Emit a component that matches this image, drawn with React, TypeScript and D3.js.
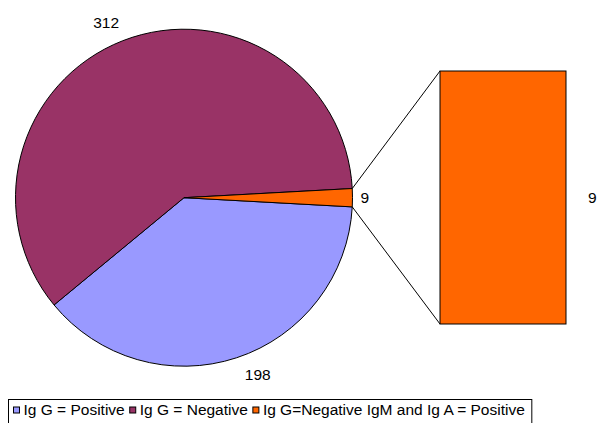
import React, { useEffect, useRef } from 'react';
import * as d3 from 'd3';

// pie slices, in drawing order (clockwise, starting just below the split slice)
const categories = [
  'Ig G = Positive',
  'Ig G = Negative',
  'Ig G=Negative IgM and Ig A = Positive'
];
const values = [198, 312, 9];
const colors = ['#9999FF', '#993366', '#FF6600'];

// the secondary bar holds only the last category
const barValues = [9];

const PieOfBar = props => {
  const container = useRef(null);
  const { width, height } = props;

  const pieCenter = { x: 184, y: 197.7 };
  const radius = 168.5;
  const bar = { x: 440, w: 126, top: 71, bottom: 324 };
  const font = 'Liberation Sans, Arial, sans-serif';
  const fontSize = '15.5px';

  useEffect(() => {
    createChart();
  }, [width, height]);

  const createChart = () => {
    const svg = d3
      .select(container.current)
      .selectAll('svg')
      .data([0])
      .join('svg')
      .attr('width', width)
      .attr('height', height)
      .style('position', 'absolute')
      .style('left', 0)
      .style('top', 0);

    const total = d3.sum(values);
    const splitIdx = values.length - 1;
    const half = (values[splitIdx] / total) * Math.PI;

    const pie = d3
      .pie()
      .sort(null)
      .value(d => d)
      .startAngle(Math.PI / 2 + half)
      .endAngle(Math.PI / 2 + half + 2 * Math.PI);

    const arcs = pie(values);
    const arc = d3.arc().innerRadius(0).outerRadius(radius);

    const pieg = svg
      .selectAll('.pieg')
      .data([0])
      .join('g')
      .attr('class', 'pieg')
      .attr('transform', `translate(${pieCenter.x},${pieCenter.y})`);

    pieg
      .selectAll('path')
      .data(arcs)
      .join('path')
      .attr('d', arc)
      .style('fill', (d, i) => colors[i])
      .style('stroke', '#000')
      .style('stroke-width', 1);

    // labels outside the slices
    const labelArc = d3.arc().innerRadius(radius + 10).outerRadius(radius + 10);
    pieg
      .selectAll('.slice-label')
      .data(arcs)
      .join('text')
      .attr('class', 'slice-label')
      .attr('x', d => {
        const cx = labelArc.centroid(d)[0];
        if (d.index == splitIdx) return cx - 2;
        return cx < 0 ? cx : cx + 5;
      })
      .attr('y', d => labelArc.centroid(d)[1])
      .attr('text-anchor', d => (labelArc.centroid(d)[0] < 0 ? 'end' : 'start'))
      .attr('dy', d => {
        const cy = labelArc.centroid(d)[1];
        if (Math.abs(cy) < 20) return '0.35em';
        return cy < 0 ? '-0.2em' : '0.85em';
      })
      .style('font-family', font)
      .style('font-size', fontSize)
      .style('fill', '#000')
      .text(d => d.data);

    // connector lines from the split slice to the bar
    const split = arcs[splitIdx];
    const edge = a => [
      pieCenter.x + radius * Math.sin(a),
      pieCenter.y - radius * Math.cos(a)
    ];
    const yBar = d3
      .scaleLinear()
      .domain([0, d3.sum(barValues)])
      .range([bar.bottom, bar.top]);

    const lines = [
      [edge(split.startAngle), [bar.x, yBar(d3.sum(barValues))]],
      [edge(split.endAngle), [bar.x, yBar(0)]]
    ];
    svg
      .selectAll('.connector')
      .data(lines)
      .join('line')
      .attr('class', 'connector')
      .attr('x1', d => d[0][0])
      .attr('y1', d => d[0][1])
      .attr('x2', d => d[1][0])
      .attr('y2', d => d[1][1])
      .style('stroke', '#000')
      .style('stroke-width', 1);

    // secondary bar
    const stacked = barValues.map((v, i) => ({
      v,
      y0: d3.sum(barValues.slice(0, i)),
      y1: d3.sum(barValues.slice(0, i + 1))
    }));
    svg
      .selectAll('.bar-seg')
      .data(stacked)
      .join('rect')
      .attr('class', 'bar-seg')
      .attr('x', bar.x)
      .attr('width', bar.w)
      .attr('y', d => yBar(d.y1))
      .attr('height', d => yBar(d.y0) - yBar(d.y1))
      .style('fill', colors[splitIdx])
      .style('stroke', '#000')
      .style('stroke-width', 1);

    svg
      .selectAll('.bar-label')
      .data(stacked)
      .join('text')
      .attr('class', 'bar-label')
      .attr('x', bar.x + bar.w + 22)
      .attr('y', d => (yBar(d.y0) + yBar(d.y1)) / 2)
      .attr('dy', '0.35em')
      .style('font-family', font)
      .style('font-size', fontSize)
      .text(d => d.v);

    /* LEGEND */
    const legendg = svg
      .selectAll('.legendg')
      .data([0])
      .join('g')
      .attr('class', 'legendg')
      .attr('transform', 'translate(8.5,399.5)');

    const items = legendg
      .selectAll('.legend-item')
      .data(categories)
      .join('g')
      .attr('class', 'legend-item');

    items
      .selectAll('rect')
      .data((d, i) => [i])
      .join('rect')
      .attr('x', 0)
      .attr('y', 7.5)
      .attr('width', 6)
      .attr('height', 6)
      .style('fill', i => colors[i])
      .style('stroke', '#000')
      .style('stroke-width', 1);

    items
      .selectAll('text')
      .data(d => [d])
      .join('text')
      .attr('x', 10)
      .attr('y', 15.8)
      .style('font-family', font)
      .style('font-size', fontSize)
      .text(d => d);

    let xpos = 5;
    items.each(function() {
      d3.select(this).attr('transform', `translate(${xpos},0)`);
      const w = d3.select(this).select('text').node().getComputedTextLength();
      xpos += 10 + w + 5;
    });

    legendg
      .selectAll('.legend-box')
      .data([0])
      .join('rect')
      .attr('class', 'legend-box')
      .attr('x', 0)
      .attr('y', 0)
      .attr('width', xpos + 2)
      .attr('height', 24)
      .style('fill', 'none')
      .style('stroke', '#000')
      .style('stroke-width', 1);
  };

  return <div className="pie-container" ref={container}></div>;
};

export default function App() {
  return <PieOfBar width={599} height={423} />;
}
